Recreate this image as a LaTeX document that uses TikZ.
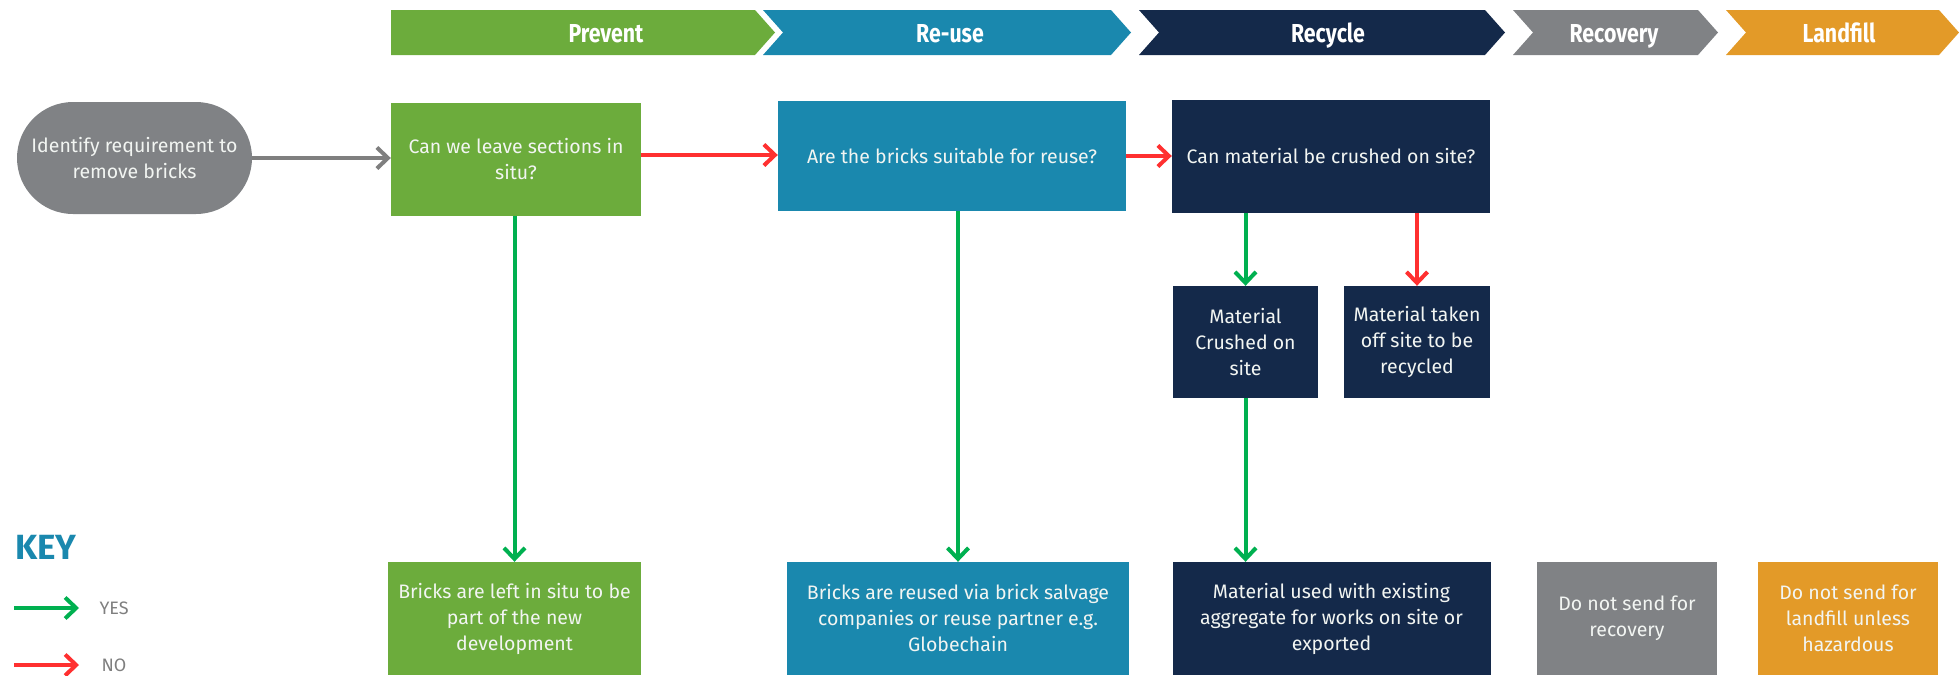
\documentclass[tikz,border=0pt]{standalone}
\usepackage{fontspec}
\setmainfont{Fira Sans}
\newfontfamily\headfont[FakeStretch=0.82]{Fira Sans}
\usetikzlibrary{arrows.meta}
\definecolor{cgreen}{HTML}{6CAC3C}
\definecolor{cteal}{HTML}{1A88AE}
\definecolor{cnavy}{HTML}{14294A}
\definecolor{cgray}{HTML}{808285}
\definecolor{corange}{HTML}{E39A28}
\definecolor{ayes}{HTML}{00B050}
\definecolor{ano}{HTML}{FF3030}
\definecolor{agray}{HTML}{7F7F7F}
\definecolor{boxtext}{HTML}{F2F5F2}
\tikzset{
  box/.style={rectangle, inner sep=0pt, text=boxtext, align=center,
    font=\fontsize{19.5}{26}\selectfont},
  head/.style={text=white, anchor=base, font=\headfont\bfseries\fontsize{26}{30}\selectfont},
  conn/.style={line width=4pt, -{Straight Barb[length=11pt,width=21pt]}},
  yes/.style={conn, draw=ayes},
  no/.style={conn, draw=ano},
}
\begin{document}
\begin{tikzpicture}[x=1pt,y=-1pt]
\useasboundingbox (0,0) rectangle (1959,675);
% banner
\fill[cgreen] (391,10) -- (755,10) -- (775,32.5) -- (755,55) -- (391,55) -- cycle;
\fill[cteal] (763,10) -- (1111,10) -- (1131,32.5) -- (1111,55) -- (763,55) -- (783,32.5) -- cycle;
\fill[cnavy] (1139,10) -- (1485,10) -- (1505,32.5) -- (1485,55) -- (1139,55) -- (1159,32.5) -- cycle;
\fill[cgray] (1513,10) -- (1698,10) -- (1718,32.5) -- (1698,55) -- (1513,55) -- (1533,32.5) -- cycle;
\fill[corange] (1726,10) -- (1939,10) -- (1959,32.5) -- (1939,55) -- (1726,55) -- (1746,32.5) -- cycle;
\node[head] (hprev) at (606,42) {Prevent};
\node[head] (hreuse) at (950,42) {Re-use};
\node[head] (hrec) at (1328,42) {Recycle};
\node[head] (hrecov) at (1614,42) {Recovery};
\node[head] (hland) at (1839,42) {Landfill};
% nodes
\node[box, fill=cgray, rounded corners=56pt, minimum width=235pt, minimum height=112pt] (start) at (134.5,158) {Identify requirement to\\remove bricks};
\node[box, fill=cgreen, minimum width=250pt, minimum height=113pt] (q1) at (516,159) {Can we leave sections in\\situ?};
\node[box, fill=cteal, minimum width=348pt, minimum height=110pt] (q2) at (952,156) {Are the bricks suitable for reuse?};
\node[box, fill=cnavy, minimum width=318pt, minimum height=113pt] (q3) at (1331,156.5) {Can material be crushed on site?};
\node[box, fill=cnavy, minimum width=145pt, minimum height=112pt] (crush) at (1245.5,342) {Material\\Crushed on\\site};
\node[box, fill=cnavy, minimum width=146pt, minimum height=112pt] (off) at (1417,342) {Material taken\\off site to be\\recycled};
\node[box, fill=cgreen, minimum width=253pt, minimum height=113pt] (insitu) at (514.5,618.5) {Bricks are left in situ to be\\part of the new\\development};
\node[box, fill=cteal, minimum width=342pt, minimum height=113pt] (reused) at (958,618.5) {Bricks are reused via brick salvage\\companies or reuse partner e.g.\\Globechain};
\node[box, fill=cnavy, minimum width=318pt, minimum height=113pt] (used) at (1331.5,618.5) {Material used with existing\\aggregate for works on site or\\exported};
\node[box, fill=cgray, minimum width=180pt, minimum height=113pt] (norecov) at (1627,618.5) {Do not send for\\recovery};
\node[box, fill=corange, minimum width=180pt, minimum height=113pt] (noland) at (1848,618.5) {Do not send for\\landfill unless\\hazardous};
% connectors
\draw[conn, draw=agray] (start.east) -- (q1.west |- start.east);
\draw[no] (q1.east |- 0,155) -- (q2.west |- 0,155);
\draw[no] (q2.east) -- (q3.west |- q2.east);
\draw[yes] (q1.south -| insitu.north) -- (insitu.north);
\draw[yes] (q2.south -| reused.north) -- (reused.north);
\draw[yes] (q3.south -| crush.north) -- (crush.north);
\draw[no] (q3.south -| off.north) -- (off.north);
\draw[yes] (crush.south) -- (crush.south |- used.north);
% key
\node[anchor=west, text=cteal, font=\bfseries\fontsize{35}{40}\selectfont] (key) at (12,547) {KEY};
\coordinate (ya) at (14,608);
\coordinate (yb) at (79,608);
\coordinate (na) at (14,665);
\coordinate (nb) at (79,665);
\draw[yes] (ya) -- (yb);
\draw[no] (na) -- (nb);
\node[anchor=west, text=agray, font=\fontsize{18}{22}\selectfont] (yes) at (96,608) {YES};
\node[anchor=west, text=agray, font=\fontsize{18}{22}\selectfont] (no) at (98,665) {NO};
\end{tikzpicture}
\end{document}
